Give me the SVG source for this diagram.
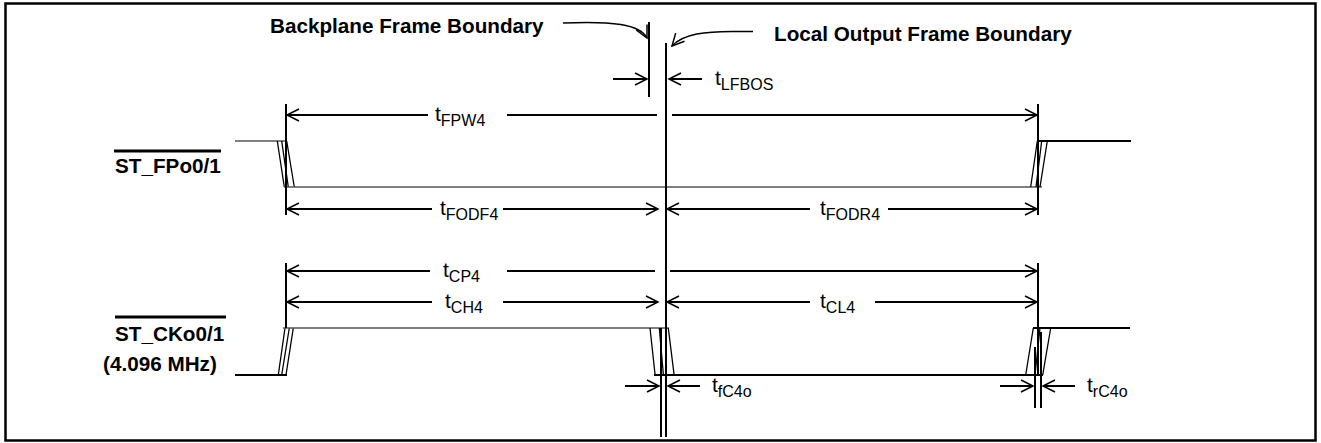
<svg xmlns="http://www.w3.org/2000/svg" width="1321" height="443" viewBox="0 0 1321 443">
<defs>
<style>
.lbl{font-family:"Liberation Sans",Arial,sans-serif;font-weight:bold;font-size:20.7px;fill:#000}
.t{font-family:"Liberation Sans",Arial,sans-serif;font-size:21px;fill:#000}
.sub{font-size:16px}
.ln{stroke:#000;stroke-width:2;fill:none}
.thin{stroke:#000;stroke-width:1.3;fill:none}
.gray{stroke:#555;stroke-width:1.5;fill:none}
.arr{stroke:#000;stroke-width:2;fill:none;marker-end:url(#ah)}
.carr{stroke:#000;stroke-width:1.5;fill:none;marker-end:url(#ah)}
</style>
<marker id="ah" markerUnits="userSpaceOnUse" markerWidth="14" markerHeight="14" refX="12" refY="6" orient="auto" overflow="visible">
<path d="M0,0 L12,6 L0,12" fill="none" stroke="#000" stroke-width="1.5"/>
</marker>
</defs>
<rect x="5.5" y="3.5" width="1310" height="437" fill="#fff" stroke="#000" stroke-width="2.5"/>

<g id="label-boundaries">
<text class="lbl" x="270" y="33">Backplane Frame Boundary</text>
<text class="lbl" x="774" y="41">Local Output Frame Boundary</text>
</g>

<g id="signal-fp">
<text class="lbl" x="115" y="173">ST_FPo0/1</text>
<line x1="114" y1="151" x2="221" y2="151" stroke="#000" stroke-width="3"/>
<line class="gray" x1="235" y1="141" x2="287" y2="141"/>
<path class="thin" d="M277.3,141 L284.3,187 M281.7,141 L288.3,187 M286.7,141 L294.3,187"/>
<line class="gray" x1="284" y1="187" x2="1042" y2="187"/>
<path class="thin" d="M1030.7,187 L1037.3,141 M1036,187 L1041.7,141 M1040,187 L1047.3,141"/>
<line class="ln" x1="1037" y1="141" x2="1131" y2="141"/>
</g>

<g id="signal-ck">
<text class="lbl" x="115" y="341">ST_CKo0/1</text>
<line x1="115" y1="317" x2="226" y2="317" stroke="#000" stroke-width="3"/>
<text class="lbl" x="103" y="371">(4.096 MHz)</text>
<line class="ln" x1="235" y1="375" x2="287" y2="375"/>
<path class="thin" d="M278.3,375 L285,328 M281.7,375 L289.3,328 M286,375 L293.3,328"/>
<line class="gray" x1="283" y1="328" x2="669" y2="328"/>
<path class="thin" d="M650,328 L655,374 M659.3,328 L663.3,374 M668.3,328 L674,374"/>
<line class="ln" x1="654" y1="375" x2="1043" y2="375"/>
<path class="thin" d="M1025.7,375 L1033.3,328 M1035,375 L1040,328 M1042.7,375 L1050.7,328"/>
<line class="ln" x1="1033" y1="328" x2="1130" y2="328"/>
</g>

<g id="boundaries">
<line class="ln" x1="649" y1="22" x2="649" y2="97"/>
<line class="ln" x1="666" y1="43" x2="666" y2="437"/>
<line class="ln" x1="286" y1="104" x2="286" y2="215"/>
<line class="ln" x1="286" y1="263" x2="286" y2="328"/>
<line class="ln" x1="1038" y1="104" x2="1038" y2="215"/>
<line class="ln" x1="1038" y1="263" x2="1038" y2="375"/>
<line class="ln" x1="661" y1="328" x2="661" y2="437"/>
<line class="ln" x1="1035" y1="347" x2="1035" y2="408"/>
<line class="ln" x1="1041" y1="332" x2="1041" y2="408"/>
</g>

<g id="connectors">
<path class="carr" d="M563,23 C612,21 640,24 647,38"/>
<path class="carr" d="M753,31.5 L738,31.5 C705,31 683,34 672,46"/>
<!-- tLFBOS -->
<line class="arr" x1="613" y1="79" x2="647" y2="79"/>
<line class="arr" x1="702" y1="79" x2="669" y2="79"/>
<!-- tFPW4 -->
<line class="arr" x1="428" y1="115" x2="287" y2="115"/>
<line class="ln" x1="507" y1="115" x2="657" y2="115"/>
<line class="arr" x1="672" y1="115" x2="1037" y2="115"/>
<!-- tFODF4 / tFODR4 -->
<line class="arr" x1="432" y1="209" x2="287" y2="209"/>
<line class="arr" x1="503" y1="209" x2="658" y2="209"/>
<line class="arr" x1="810" y1="209" x2="667" y2="209"/>
<line class="arr" x1="888" y1="209" x2="1037" y2="209"/>
<!-- tCP4 -->
<line class="arr" x1="430" y1="271" x2="287" y2="271"/>
<line class="ln" x1="507" y1="271" x2="655" y2="271"/>
<line class="arr" x1="670" y1="271" x2="1037" y2="271"/>
<!-- tCH4 / tCL4 -->
<line class="arr" x1="432" y1="302" x2="287" y2="302"/>
<line class="arr" x1="503" y1="302" x2="658" y2="302"/>
<line class="arr" x1="810" y1="302" x2="667" y2="302"/>
<line class="arr" x1="875" y1="302" x2="1037" y2="302"/>
<!-- tfC4o -->
<line class="arr" x1="625" y1="386" x2="659" y2="386"/>
<line class="arr" x1="700" y1="386" x2="668" y2="386"/>
<!-- trC4o -->
<line class="arr" x1="1000" y1="386" x2="1033" y2="386"/>
<line class="arr" x1="1075" y1="386" x2="1043" y2="386"/>
</g>

<g id="timing-labels">
<text class="t" x="715" y="85">t<tspan class="sub" dy="4.5">LFBOS</tspan></text>
<text class="t" x="435" y="121">t<tspan class="sub" dy="4.5">FPW4</tspan></text>
<text class="t" x="440" y="215">t<tspan class="sub" dy="4.5">FODF4</tspan></text>
<text class="t" x="820" y="215">t<tspan class="sub" dy="4.5">FODR4</tspan></text>
<text class="t" x="443" y="277">t<tspan class="sub" dy="4.5">CP4</tspan></text>
<text class="t" x="445" y="308">t<tspan class="sub" dy="4.5">CH4</tspan></text>
<text class="t" x="820" y="308">t<tspan class="sub" dy="4.5">CL4</tspan></text>
<text class="t" x="712" y="392">t<tspan class="sub" dy="4.5">fC4o</tspan></text>
<text class="t" x="1087" y="392">t<tspan class="sub" dy="4.5">rC4o</tspan></text>
</g>
</svg>
